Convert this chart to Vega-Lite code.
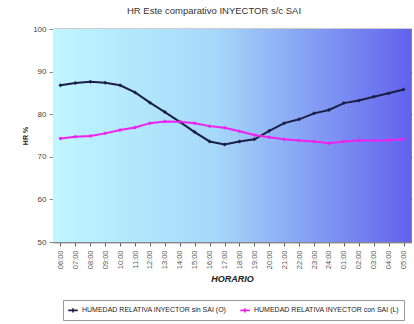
{
  "$schema": "https://vega.github.io/schema/vega-lite/v6.json",
  "width": 358,
  "height": 213,
  "autosize": "none",
  "padding": {"left": 53, "top": 29, "right": 3, "bottom": 82},
  "background": "white",
  "title": {"text": "HR Este comparativo INYECTOR s/c SAI", "fontSize": 9.5, "fontWeight": "normal", "color": "#333333", "font": "Liberation Sans Narrow, Liberation Sans, Arial", "offset": 10, "anchor": "middle", "dx": -18},
  "config": {
    "view": {"stroke": "#888888", "strokeWidth": 1},
    "font": "Liberation Sans Narrow, Liberation Sans, Arial"
  },
  "datasets": {
    "hr": [
      {"hora": "06:00", "serie": "HUMEDAD RELATIVA INYECTOR sin SAI (O)", "valor": 86.8},
      {"hora": "07:00", "serie": "HUMEDAD RELATIVA INYECTOR sin SAI (O)", "valor": 87.3},
      {"hora": "08:00", "serie": "HUMEDAD RELATIVA INYECTOR sin SAI (O)", "valor": 87.6},
      {"hora": "09:00", "serie": "HUMEDAD RELATIVA INYECTOR sin SAI (O)", "valor": 87.4},
      {"hora": "10:00", "serie": "HUMEDAD RELATIVA INYECTOR sin SAI (O)", "valor": 86.8},
      {"hora": "11:00", "serie": "HUMEDAD RELATIVA INYECTOR sin SAI (O)", "valor": 85.1},
      {"hora": "12:00", "serie": "HUMEDAD RELATIVA INYECTOR sin SAI (O)", "valor": 82.7},
      {"hora": "13:00", "serie": "HUMEDAD RELATIVA INYECTOR sin SAI (O)", "valor": 80.5},
      {"hora": "14:00", "serie": "HUMEDAD RELATIVA INYECTOR sin SAI (O)", "valor": 78.2},
      {"hora": "15:00", "serie": "HUMEDAD RELATIVA INYECTOR sin SAI (O)", "valor": 75.8},
      {"hora": "16:00", "serie": "HUMEDAD RELATIVA INYECTOR sin SAI (O)", "valor": 73.6},
      {"hora": "17:00", "serie": "HUMEDAD RELATIVA INYECTOR sin SAI (O)", "valor": 72.9},
      {"hora": "18:00", "serie": "HUMEDAD RELATIVA INYECTOR sin SAI (O)", "valor": 73.6},
      {"hora": "19:00", "serie": "HUMEDAD RELATIVA INYECTOR sin SAI (O)", "valor": 74.1},
      {"hora": "20:00", "serie": "HUMEDAD RELATIVA INYECTOR sin SAI (O)", "valor": 76.1},
      {"hora": "21:00", "serie": "HUMEDAD RELATIVA INYECTOR sin SAI (O)", "valor": 77.9},
      {"hora": "22:00", "serie": "HUMEDAD RELATIVA INYECTOR sin SAI (O)", "valor": 78.8},
      {"hora": "23:00", "serie": "HUMEDAD RELATIVA INYECTOR sin SAI (O)", "valor": 80.2},
      {"hora": "24:00", "serie": "HUMEDAD RELATIVA INYECTOR sin SAI (O)", "valor": 81.0},
      {"hora": "01:00", "serie": "HUMEDAD RELATIVA INYECTOR sin SAI (O)", "valor": 82.6},
      {"hora": "02:00", "serie": "HUMEDAD RELATIVA INYECTOR sin SAI (O)", "valor": 83.2},
      {"hora": "03:00", "serie": "HUMEDAD RELATIVA INYECTOR sin SAI (O)", "valor": 84.1},
      {"hora": "04:00", "serie": "HUMEDAD RELATIVA INYECTOR sin SAI (O)", "valor": 84.9},
      {"hora": "05:00", "serie": "HUMEDAD RELATIVA INYECTOR sin SAI (O)", "valor": 85.8},
      {"hora": "06:00", "serie": "HUMEDAD RELATIVA INYECTOR con SAI (L)", "valor": 74.3},
      {"hora": "07:00", "serie": "HUMEDAD RELATIVA INYECTOR con SAI (L)", "valor": 74.7},
      {"hora": "08:00", "serie": "HUMEDAD RELATIVA INYECTOR con SAI (L)", "valor": 74.9},
      {"hora": "09:00", "serie": "HUMEDAD RELATIVA INYECTOR con SAI (L)", "valor": 75.5},
      {"hora": "10:00", "serie": "HUMEDAD RELATIVA INYECTOR con SAI (L)", "valor": 76.3},
      {"hora": "11:00", "serie": "HUMEDAD RELATIVA INYECTOR con SAI (L)", "valor": 76.9},
      {"hora": "12:00", "serie": "HUMEDAD RELATIVA INYECTOR con SAI (L)", "valor": 77.9},
      {"hora": "13:00", "serie": "HUMEDAD RELATIVA INYECTOR con SAI (L)", "valor": 78.3},
      {"hora": "14:00", "serie": "HUMEDAD RELATIVA INYECTOR con SAI (L)", "valor": 78.2},
      {"hora": "15:00", "serie": "HUMEDAD RELATIVA INYECTOR con SAI (L)", "valor": 77.9},
      {"hora": "16:00", "serie": "HUMEDAD RELATIVA INYECTOR con SAI (L)", "valor": 77.2},
      {"hora": "17:00", "serie": "HUMEDAD RELATIVA INYECTOR con SAI (L)", "valor": 76.8},
      {"hora": "18:00", "serie": "HUMEDAD RELATIVA INYECTOR con SAI (L)", "valor": 76.0},
      {"hora": "19:00", "serie": "HUMEDAD RELATIVA INYECTOR con SAI (L)", "valor": 75.1},
      {"hora": "20:00", "serie": "HUMEDAD RELATIVA INYECTOR con SAI (L)", "valor": 74.6},
      {"hora": "21:00", "serie": "HUMEDAD RELATIVA INYECTOR con SAI (L)", "valor": 74.1},
      {"hora": "22:00", "serie": "HUMEDAD RELATIVA INYECTOR con SAI (L)", "valor": 73.8},
      {"hora": "23:00", "serie": "HUMEDAD RELATIVA INYECTOR con SAI (L)", "valor": 73.6},
      {"hora": "24:00", "serie": "HUMEDAD RELATIVA INYECTOR con SAI (L)", "valor": 73.2},
      {"hora": "01:00", "serie": "HUMEDAD RELATIVA INYECTOR con SAI (L)", "valor": 73.6},
      {"hora": "02:00", "serie": "HUMEDAD RELATIVA INYECTOR con SAI (L)", "valor": 73.8},
      {"hora": "03:00", "serie": "HUMEDAD RELATIVA INYECTOR con SAI (L)", "valor": 73.8},
      {"hora": "04:00", "serie": "HUMEDAD RELATIVA INYECTOR con SAI (L)", "valor": 73.9},
      {"hora": "05:00", "serie": "HUMEDAD RELATIVA INYECTOR con SAI (L)", "valor": 74.1}
    ]
  },
  "layer": [
    {
      "data": {"values": [{"fondo": 1}]},
      "mark": {
        "type": "rect",
        "color": {"x1": 0, "y1": 0, "x2": 1, "y2": 0, "gradient": "linear", "stops": [
          {"offset": 0, "color": "#bff6ff"},
          {"offset": 0.45, "color": "#a6d9f9"},
          {"offset": 1, "color": "#6262ee"}
        ]}
      },
      "encoding": {}
    },
    {
      "data": {"name": "hr"},
      "mark": {"type": "line", "strokeWidth": 2, "point": {"size": 16, "filled": true, "shape": "diamond"}},
      "encoding": {
        "x": {
          "field": "hora", "type": "ordinal", "sort": null,
          "axis": {"title": "HORARIO", "titleFontSize": 9, "titleFontStyle": "italic", "titleFontWeight": "bold", "titleColor": "#222222", "titlePadding": 6,
                   "labelAngle": -90, "labelFontSize": 7.5, "labelColor": "#555555", "labelPadding": 4,
                   "domainColor": "#888888", "tickColor": "#666666", "tickSize": 4, "grid": false}
        },
        "y": {
          "field": "valor", "type": "quantitative",
          "scale": {"domain": [50, 100], "nice": false, "zero": false},
          "axis": {"title": "HR %", "titleFontSize": 7, "titleFontWeight": "bold", "titleColor": "#222222", "titlePadding": 4,
                   "values": [50, 60, 70, 80, 90, 100], "labelFontSize": 8, "labelColor": "#444444", "labelPadding": 3,
                   "domainColor": "#888888", "tickColor": "#888888", "tickSize": 4,
                   "grid": true, "gridColor": "#3a3a4a", "gridWidth": 1.3}
        },
        "color": {
          "field": "serie", "type": "nominal",
          "scale": {"domain": ["HUMEDAD RELATIVA INYECTOR sin SAI (O)", "HUMEDAD RELATIVA INYECTOR con SAI (L)"], "range": ["#1c1f45", "#ee22ee"]},
          "legend": {"title": null, "orient": "none", "legendX": 10, "legendY": 271, "direction": "horizontal", "labelFontSize": 7, "labelColor": "#222222", "labelLimit": 0, "labelOffset": 3,
                     "strokeColor": "#999999", "padding": 4, "columnPadding": 10,
                     "symbolType": "M-1,0H1M0,-0.45V0.45", "symbolStrokeWidth": 1.6, "symbolSize": 90}
        }
      }
    }
  ]
}
